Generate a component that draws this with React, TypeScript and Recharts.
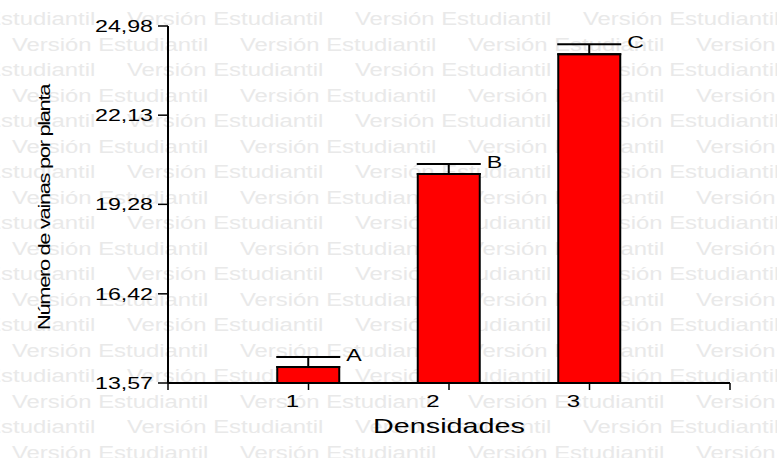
import React from 'react';
import { BarChart, Bar, XAxis, YAxis, ErrorBar } from 'recharts';

const densidades = [1, 2, 3];
const medias = [14.08, 20.25, 24.08];
const errores = [0.32, 0.32, 0.32];
const letras = ['A', 'B', 'C'];
const yTicks = [13.57, 16.42, 19.28, 22.13, 24.98];
const xTicks = [0, 1, 2, 3, 4];

const Y_MIN = 13.57;
const Y_MAX = 24.98;

const data = densidades.map((d, i) => ({
  densidad: d,
  media: medias[i],
  error: [0, errores[i]],
  letra: letras[i],
}));

const FONT = '"Liberation Sans", Arial, sans-serif';

// marca de agua de fondo
const Watermark = () => {
  const rows = [];
  for (let r = 0; r < 18; r++) {
    const y = 25 + r * 25.5;
    const start = r % 2 === 0 ? -101 : -216;
    for (let k = 0; k < 5; k++) {
      const x = start + k * 228;
      rows.push(
        <text
          key={`${r}-${k}`}
          transform={`translate(${x},${y}) scale(1.29,1)`}
          fontSize={18.5}
          fontFamily={FONT}
          fill="#e9e9e9"
        >
          Versión Estudiantil
        </text>
      );
    }
  }
  return (
    <svg width={777} height={458} style={{ position: 'absolute', left: 0, top: 0 }}>
      {rows}
    </svg>
  );
};

const YTick = (props: any) => {
  const { x, y, payload } = props;
  const label = Number(payload.value).toFixed(2).replace('.', ',');
  return (
    <text
      transform={`translate(${x},${y + 6}) scale(1.45,1)`}
      textAnchor="end"
      fontSize={16}
      fontFamily={FONT}
      fill="#000"
    >
      {label}
    </text>
  );
};

const XTick = (props: any) => {
  const { x, y, payload } = props;
  if (payload.value < 1 || payload.value > 3) return null;
  return (
    <text
      transform={`translate(${x - 16},${y + 15}) scale(1.5,1)`}
      textAnchor="middle"
      fontSize={16}
      fontFamily={FONT}
      fill="#000"
    >
      {payload.value}
    </text>
  );
};

const BarWithLetter = (props: any) => {
  const { x, y, width, height, payload, index } = props;
  const scale = height / (payload.media - Y_MIN);
  const capY = y - errores[index] * scale;
  const cx = x + width / 2;
  return (
    <g>
      <rect x={x} y={y} width={width} height={height} fill="#ff0000" stroke="#000" strokeWidth={2} />
      <text
        transform={`translate(${cx + 38},${capY + 4}) scale(1.45,1)`}
        fontSize={16}
        fontFamily={FONT}
        fill="#000"
      >
        {payload.letra}
      </text>
    </g>
  );
};

const YLabel = (props: any) => {
  const vb = props.viewBox || {};
  const cy = (vb.y ?? 26) + (vb.height ?? 357) / 2 + 3;
  return (
    <text
      transform={`translate(50,${cy}) rotate(-90)`}
      textAnchor="middle"
      fontSize={17}
      fontFamily={FONT}
      letterSpacing={-1}
      textLength={245}
      lengthAdjust="spacingAndGlyphs"
      fill="#000"
    >
      Número de vainas por planta
    </text>
  );
};

const XLabel = (props: any) => {
  const vb = props.viewBox || {};
  const cx = (vb.x ?? 168) + (vb.width ?? 562) / 2;
  return (
    <text
      transform={`translate(${cx},${(vb.y ?? 383) + 50}) scale(1.44,1)`}
      textAnchor="middle"
      fontSize={20}
      fontFamily={FONT}
      fill="#000"
    >
      Densidades
    </text>
  );
};

const App = () => {
  return (
    <div style={{ position: 'relative', width: 777, height: 458, background: '#fff' }}>
      <style>{'body{margin:0}'}</style>
      <Watermark />
      <div style={{ position: 'absolute', left: 0, top: 0 }}>
        <BarChart width={777} height={458} data={data} margin={{ top: 26, right: 47, bottom: 0, left: 0 }}>
          <XAxis
            dataKey="densidad"
            type="number"
            domain={[0, 4]}
            ticks={xTicks}
            interval={0}
            height={75}
            tickSize={7}
            axisLine={{ stroke: '#000', strokeWidth: 2 }}
            tickLine={{ stroke: '#000', strokeWidth: 1.5 }}
            tick={<XTick />}
            label={{ content: <XLabel /> }}
          />
          <YAxis
            type="number"
            domain={[Y_MIN, Y_MAX]}
            ticks={yTicks}
            interval={0}
            width={168}
            tickSize={10}
            tickMargin={5}
            axisLine={{ stroke: '#000', strokeWidth: 2 }}
            tickLine={{ stroke: '#000', strokeWidth: 1.5 }}
            tick={<YTick />}
            label={{ content: <YLabel /> }}
          />
          <Bar dataKey="media" barSize={62} isAnimationActive={false} shape={<BarWithLetter />}>
            <ErrorBar dataKey="error" width={32} stroke="#000" strokeWidth={2} direction="y" />
          </Bar>
        </BarChart>
      </div>
    </div>
  );
};

export default App;
